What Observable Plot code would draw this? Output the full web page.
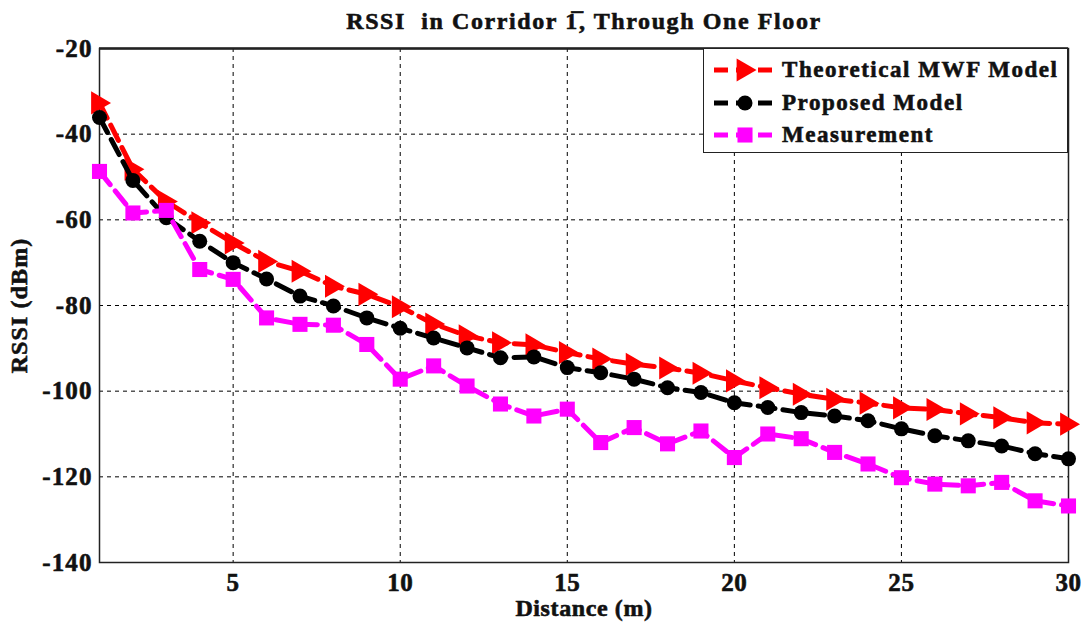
<!DOCTYPE html>
<html>
<head>
<meta charset="utf-8">
<script src="https://cdn.jsdelivr.net/npm/d3@7"></script>
<script src="https://cdn.jsdelivr.net/npm/@observablehq/plot@0.6"></script>
<style>
  html, body { margin: 0; padding: 0; background: #fff; }
  #wrap { position: relative; width: 1084px; height: 624px; font-family: "Liberation Serif", "DejaVu Serif", serif; }
  #legend { position: absolute; left: 703px; top: 48px; width: 365px; height: 105px; border: 1.5px solid #222; background: #fff; box-sizing: border-box; }
  .row { position: absolute; left: 0; height: 32px; display: flex; align-items: center; }
  .row span { font-weight: bold; font-size: 23px; color: #111; margin-left: 6px; letter-spacing: 1.55px; -webkit-text-stroke: 0.6px #111; }
</style>
</head>
<body>
<div id="wrap"></div>
<script>
const distance = [1,2,3,4,5,6,7,8,9,10,11,12,13,14,15,16,17,18,19,20,21,22,23,24,25,26,27,28,29,30];
const theoretical = [-32.7,-48.2,-55.7,-60.7,-65.4,-69.7,-72.0,-75.5,-77.4,-80.3,-84.3,-87.1,-88.7,-89.2,-91.0,-92.5,-93.7,-94.6,-95.8,-97.6,-99.2,-100.7,-101.9,-102.8,-103.9,-104.3,-105.3,-106.2,-107.4,-107.7];
const proposed = [-36.1,-50.8,-59.5,-65.0,-70.0,-73.8,-77.8,-80.1,-82.9,-85.3,-87.6,-89.9,-92.2,-92.0,-94.5,-95.7,-97.2,-99.2,-100.3,-102.7,-103.8,-105.0,-105.8,-106.9,-108.8,-110.4,-111.6,-112.8,-114.6,-115.8];
const measurement = [-48.7,-58.4,-57.8,-71.6,-73.9,-82.9,-84.4,-84.6,-89.1,-97.2,-94.1,-98.8,-103.0,-105.8,-104.2,-112.0,-108.5,-112.3,-109.3,-115.5,-110.0,-111.1,-114.3,-117.0,-120.2,-121.7,-122.1,-121.3,-125.6,-126.8];
const seriesNames = ["Theoretical MWF Model", "Proposed Model", "Measurement"];
const seriesColors = ["#ff0000", "#000000", "#ff00ff"];
const xTicks = [5, 10, 15, 20, 25, 30];
const yTicks = [-20, -40, -60, -80, -100, -120, -140];
const titleText = "RSSI\u00a0\u00a0in Corridor 1\u0305, Through One Floor";
const xLabel = "Distance (m)";
const yLabel = "RSSI (dBm)";

const rightTriangle = {
  draw(context, size) {
    const s = Math.sqrt(size) * 1.05;
    context.moveTo(s * 0.62, 0);
    context.lineTo(-s * 0.45, -s * 0.62);
    context.lineTo(-s * 0.45, s * 0.62);
    context.closePath();
  }
};
const symbols = [rightTriangle, "circle", "square"];
const radii = [10, 7.5, 8.5];
const allSeries = [theoretical, proposed, measurement];

const rows = [];
allSeries.forEach((vals, i) => vals.forEach((v, j) => rows.push({series: seriesNames[i], idx: i, x: distance[j], y: v})));

const font = "'Liberation Serif', 'DejaVu Serif', serif";
const yFmt = d => d < 0 ? "-" + Math.abs(d) : String(d);
const marks = [
  Plot.gridX(xTicks.slice(0, -1), {stroke: "#000", strokeOpacity: 1, strokeDasharray: "4,4", strokeWidth: 1}),
  Plot.gridY(yTicks.slice(1, -1), {stroke: "#000", strokeOpacity: 1, strokeDasharray: "4,4", strokeWidth: 1}),
  Plot.frame({stroke: "#222", strokeWidth: 1.5}),
  Plot.ruleY([-20], {stroke: "#222", strokeWidth: 2.5}),
  Plot.axisX(xTicks, {tickSize: 0, tickPadding: 11, fontSize: 25, fontWeight: "bold", label: null}),
  Plot.axisY(yTicks, {tickSize: 0, tickPadding: 7, fontSize: 25, fontWeight: "bold", label: null, tickFormat: yFmt}),
  Plot.text([titleText], {frameAnchor: "top", dy: -37, fontSize: 24, fontWeight: "bold", fill: "#111"}),
  Plot.text([xLabel], {frameAnchor: "bottom", dy: 53, fontSize: 24, fontWeight: "bold", fill: "#111"}),
  Plot.text([yLabel], {frameAnchor: "left", dx: -80, rotate: -90, textAnchor: "middle", fontSize: 24, fontWeight: "bold", fill: "#111"})
];
seriesNames.forEach((name, i) => {
  const data = rows.filter(r => r.idx === i);
  marks.push(Plot.line(data, {x: "x", y: "y", stroke: seriesColors[i], strokeWidth: 5, strokeDasharray: "17,8"}));
  marks.push(Plot.dot(data, {x: "x", y: "y", fill: seriesColors[i], stroke: "none", symbol: () => symbols[i], r: radii[i]}));
});

const chart = Plot.plot({
  width: 1084,
  height: 624,
  marginLeft: 99,
  marginRight: 16,
  marginTop: 48,
  marginBottom: 62,
  style: {fontFamily: font, background: "#fff", color: "#111", overflow: "visible"},
  x: {domain: [1, 30]},
  y: {domain: [-140, -20]},
  marks
});
// widen and thicken lettering to mimic the reference's heavy bold serif
const spacingByText = new Map([[titleText, "1.6px"], [xLabel, "0.6px"], [yLabel, "1.1px"]]);
xTicks.forEach(t => spacingByText.set(String(t), "0.6px"));
yTicks.forEach(t => spacingByText.set(yFmt(t), "1.1px"));
d3.select(chart).selectAll("text").each(function() {
  const s = spacingByText.get(this.textContent);
  if (s) {
    this.setAttribute("letter-spacing", s);
    this.setAttribute("stroke", "#111");
    this.setAttribute("stroke-width", "0.6");
  }
});
document.getElementById("wrap").appendChild(chart);

// Legend
const legend = document.createElement("div");
legend.id = "legend";
seriesNames.forEach((name, i) => {
  const row = document.createElement("div");
  row.className = "row";
  row.style.top = (5 + i * 32.5) + "px";
  const svg = d3.create("svg").attr("width", 72).attr("height", 30);
  svg.append("line").attr("x1", 10).attr("x2", 72).attr("y1", 15).attr("y2", 15)
    .attr("stroke", seriesColors[i]).attr("stroke-width", 5).attr("stroke-dasharray", "14,8");
  const sym = typeof symbols[i] === "string" ? (symbols[i] === "circle" ? d3.symbolCircle : d3.symbolSquare) : symbols[i];
  svg.append("path").attr("transform", "translate(41,15)")
    .attr("d", d3.symbol(sym, Math.PI * radii[i] * radii[i])())
    .attr("fill", seriesColors[i]);
  row.appendChild(svg.node());
  const label = document.createElement("span");
  label.textContent = name;
  row.appendChild(label);
  legend.appendChild(row);
});
document.getElementById("wrap").appendChild(legend);
</script>
</body>
</html>
